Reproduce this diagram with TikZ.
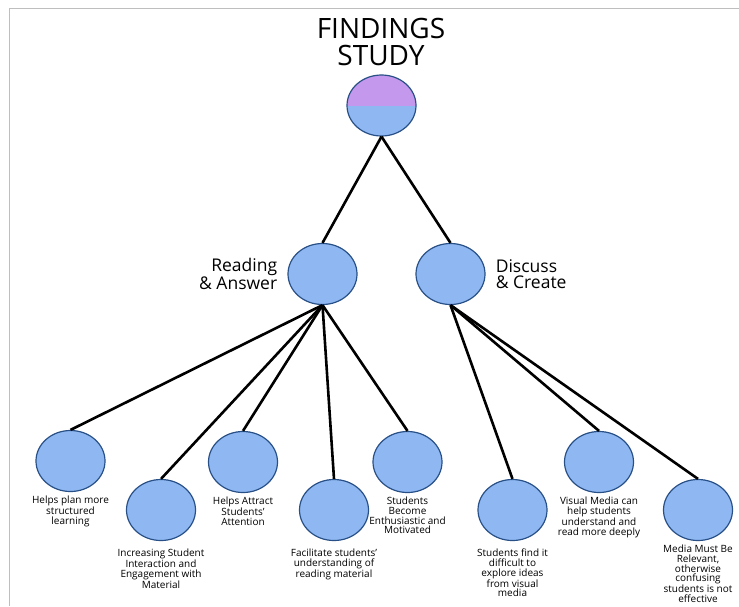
\documentclass[tikz,border=0pt]{standalone}
\usepackage{fontspec}
\setmainfont{Open Sans}
\usetikzlibrary{shapes.geometric,positioning}

\definecolor{nodeblue}{RGB}{143,184,242}
\definecolor{nodepurple}{RGB}{196,152,236}
\definecolor{nodeline}{RGB}{40,80,135}
\definecolor{framegray}{RGB}{190,190,190}

\tikzset{
  bubble/.style={ellipse, draw=nodeline, line width=1.2pt, fill=nodeblue,
    minimum width=69pt, minimum height=61pt, inner sep=0pt},
  link/.style={line width=2.6pt, black},
  leaftext/.style={align=center, font=\fontsize{10}{9.6}\selectfont, inner sep=0pt},
  headtext/.style={font=\fontsize{17.5}{16.5}\selectfont, inner sep=0pt},
}

\begin{document}
\begin{tikzpicture}[x=1pt,y=-1pt]

    \useasboundingbox (0,0) rectangle (739,606);
    \draw[framegray, line width=1.5pt] (9.5,606) -- (9.5,8.5) -- (739,8.5);

    \node[align=center, font=\fontsize{28}{26.5}\selectfont, inner sep=0pt] (title) at (381,42) {FINDINGS\\STUDY};

    \node[bubble, path picture={\fill[nodepurple] (path picture bounding box.north west)
      rectangle (path picture bounding box.east);}] (root) at (381.5,105.5) {};

    \node[bubble] (rd) at (322.5,274) {};
    \node[bubble] (dc) at (450.5,274) {};
    \node[headtext, align=right, left=10pt of rd] (rdtext) {Reading\\\& Answer};
    \node[headtext, align=left, right=10pt of dc] (dctext) {Discuss\\\& Create};

    \node[bubble] (l1) at (70.5,461) {};
    \node[bubble] (l2) at (161,510) {};
    \node[bubble] (l3) at (243,462) {};
    \node[bubble] (l4) at (334,510) {};
    \node[bubble] (l5) at (407.5,462) {};
    \node[bubble] (l6) at (512.5,510) {};
    \node[bubble] (l7) at (599,462) {};
    \node[bubble] (l8) at (698,510) {};

    \node[leaftext, below=4pt of l1] (t1) {Helps plan more\\structured\\learning};
    \node[leaftext, below=8pt of l2] (t2) {Increasing Student\\Interaction and\\Engagement with\\Material};
    \node[leaftext, below=4pt of l3] (t3) {Helps Attract\\Students'\\Attention};
    \node[leaftext, below=8pt of l4] (t4) {Facilitate students'\\understanding of\\reading material};
    \node[leaftext, below=4pt of l5] (t5) {Students\\Become\\Enthusiastic and\\Motivated};
    \node[leaftext, below=8pt of l6] (t6) {Students find it\\difficult to\\explore ideas\\from visual\\media};
    \node[leaftext, below=4pt of l7] (t7) {Visual Media can\\help students\\understand and\\read more deeply};
    \node[leaftext, below=4pt of l8] (t8) {Media Must Be\\Relevant,\\otherwise\\confusing\\students is not\\effective};

    \draw[link] (root.south) -- (rd.north);
    \draw[link] (root.south) -- (dc.north);
    \draw[link] (rd.south) -- (l1.north);
    \draw[link] (rd.south) -- (l2.north);
    \draw[link] (rd.south) -- (l3.north);
    \draw[link] (rd.south) -- (l4.north);
    \draw[link] (rd.south) -- (l5.north);
    \draw[link] (dc.south) -- (l6.north);
    \draw[link] (dc.south) -- (l7.north);
    \draw[link] (dc.south) -- (l8.north);

\end{tikzpicture}
\end{document}
